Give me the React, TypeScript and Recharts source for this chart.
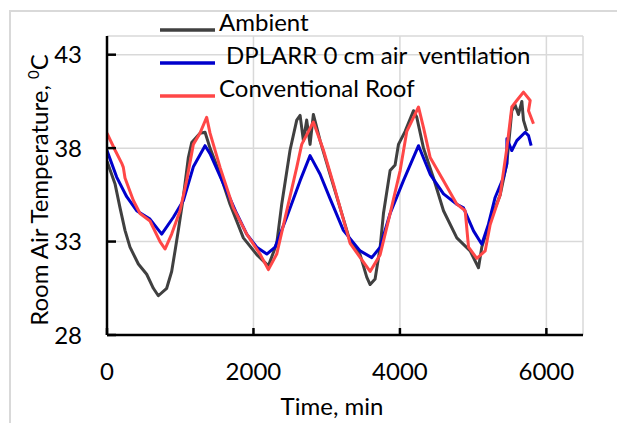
import { LineChart, Line, XAxis, YAxis, CartesianGrid, Legend } from 'recharts';

// time in minutes, room air temperature in degC
const ambientTime = [
  0, 109, 178, 246, 314, 428, 542, 633, 701, 815, 883, 929, 974, 1043, 1111, 1157, 1270, 1339, 1407,
  1544, 1680, 1862, 2045, 2204, 2318, 2386, 2500, 2591, 2637, 2682, 2727, 2773, 2818, 2910, 3046,
  3183, 3320, 3456, 3547, 3593, 3661, 3730, 3775, 3866, 3934, 3980, 4071, 4185, 4230, 4322, 4458,
  4595, 4777, 4959, 5073, 5118, 5232, 5369, 5460, 5528, 5574, 5619, 5665, 5687, 5733,
];
const ambientTemp = [
  37.3, 36.1, 34.8, 33.6, 32.7, 31.8, 31.25, 30.5, 30.1, 30.5, 31.4, 32.5, 33.6, 35.4, 37.5, 38.3, 38.8, 38.85, 38.0,
  36.6, 35.0, 33.2, 32.3, 31.7, 32.9, 35.0, 37.9, 39.5, 39.75, 38.4, 39.5, 38.2, 39.8, 38.4, 36.6,
  34.8, 33.0, 32.3, 31.1, 30.7, 31.0, 32.7, 34.5, 36.8, 37.1, 38.2, 38.9, 40.0, 39.65, 38.0, 36.4,
  34.65, 33.2, 32.5, 31.6, 32.7, 34.1, 35.5, 37.2, 40.0, 40.3, 39.8, 40.5, 39.5, 38.9,
];

const dplarrTime = [
  0, 132, 269, 405, 587, 747, 906, 1043, 1179, 1339, 1407, 1589, 1771, 1908, 2045, 2182, 2295, 2454,
  2637, 2773, 2910, 3046, 3228, 3456, 3616, 3730, 3866, 4048, 4254, 4413, 4595, 4777, 4868, 5005,
  5118, 5209, 5300, 5414, 5460, 5461, 5528, 5596, 5710, 5756, 5792,
];
const dplarrTemp = [
  37.87, 36.45, 35.4, 34.65, 34.2, 33.4, 34.3, 35.2, 37.0, 38.13, 37.7, 36.1, 34.5, 33.4, 32.7, 32.33, 32.7, 34.3,
  36.26, 37.6, 36.6, 35.3, 33.6, 32.5, 32.14, 32.7, 34.5, 36.26, 38.13, 36.6, 35.55, 35.0, 34.8, 33.57,
  32.86, 33.93, 35.36, 36.43, 37.15, 38.5, 37.87, 38.4, 38.85, 38.67, 38.13,
];

const conventionalTime = [
  0, 109, 200, 223, 246, 360, 451, 587, 724, 792, 883, 997, 1088, 1179, 1270, 1361, 1407, 1544, 1726,
  1908, 2090, 2204, 2318, 2454, 2591, 2659, 2818, 2955, 3091, 3320, 3593, 3730, 3866, 4003, 4094,
  4254, 4322, 4413, 4595, 4777, 4891, 4937, 5050, 5164, 5232, 5369, 5460, 5528, 5596, 5687, 5779,
  5756, 5824,
];
const conventionalTemp = [
  38.8, 37.9, 37.2, 36.97, 36.4, 35.2, 34.5, 34.1, 33.0, 32.6, 33.4, 34.65, 36.26, 38.2, 38.8, 39.65, 38.8, 36.97, 34.8,
  33.4, 32.33, 31.5, 32.33, 34.65, 36.97, 38.2, 39.4, 37.9, 36.1, 32.9, 31.4, 32.3, 34.5, 36.8, 38.9,
  40.2, 39.1, 37.5, 36.26, 35.0, 34.65, 32.7, 32.1, 32.5, 33.9, 35.5, 38.0, 40.2, 40.55, 41.0, 40.55,
  40.0, 39.3,
];

const xTicks = [0, 2000, 4000, 6000];
const yTicks = [28, 33, 38, 43];

const seriesNames = ['Ambient', 'DPLARR 0 cm air  ventilation', 'Conventional Roof'];
const seriesColors = ['#404040', '#0000CC', '#FF4747'];

const toPoints = (time: number[], temp: number[]) => time.map((t, i) => ({ time: t, temp: temp[i] }));

const FONT = 'Lato';

function LegendBox() {
  const rows = [
    { y: 31, x: 219 },
    { y: 64, x: 226 },
    { y: 97, x: 219 },
  ];
  return (
    <svg width={617} height={110} style={{ display: 'block' }}>
      {rows.map((r, i) => (
        <g key={seriesNames[i]}>
          <line x1={160} x2={215} y1={r.y - 1} y2={r.y - 1} stroke={seriesColors[i]} strokeWidth={3.5} />
          <text x={r.x} y={r.y} fontFamily={FONT} fontSize={24} fill="#000" style={{ whiteSpace: 'pre' }}>
            {seriesNames[i]}
          </text>
        </g>
      ))}
    </svg>
  );
}

function YLabel() {
  return (
    <text transform="translate(48, 190) rotate(-90)" textAnchor="middle" fontFamily={FONT} fontSize={24} fill="#000">
      Room Air Temperature,{' '}
      <tspan dy={-9} fontSize={15}>0</tspan>
      <tspan dy={9}>C</tspan>
    </text>
  );
}

export default function App() {
  const tickStyle = { fill: '#000', fontSize: 24, fontFamily: FONT };
  return (
    <div style={{ position: 'absolute', left: 0, top: 0, width: 617, height: 423, overflow: 'hidden', background: '#fff' }}>
      <div
        style={{
          position: 'absolute',
          left: 9,
          top: 10,
          width: 608,
          height: 413,
          borderTop: '2px solid #d9d9d9',
          borderLeft: '2px solid #d9d9d9',
        }}
      />
      <LineChart width={617} height={423} margin={{ top: 36, right: 34, bottom: 0, left: 0 }}>
        <CartesianGrid stroke="#d9d9d9" strokeWidth={1.5} />
        <XAxis
          dataKey="time"
          type="number"
          domain={[0, 6500]}
          ticks={xTicks}
          allowDataOverflow
          height={88}
          tickSize={-7}
          tickMargin={35}
          tick={tickStyle}
          axisLine={{ stroke: '#000', strokeWidth: 2.5 }}
          tickLine={{ stroke: '#000', strokeWidth: 2.5 }}
          label={{ value: 'Time, min', position: 'insideBottom', offset: 8, dx: -13, fill: '#000', fontSize: 24, fontFamily: FONT }}
        />
        <YAxis
          type="number"
          domain={[28, 44]}
          ticks={yTicks}
          allowDataOverflow
          width={107}
          tickSize={-9}
          tickMargin={34}
          tick={tickStyle}
          axisLine={{ stroke: '#000', strokeWidth: 2.5 }}
          tickLine={{ stroke: '#000', strokeWidth: 2.5 }}
          label={<YLabel />}
        />
        <Legend
          layout="vertical"
          align="center"
          verticalAlign="middle"
          wrapperStyle={{ left: 0, top: 0, width: 617, height: 110 }}
          content={() => <LegendBox />}
        />
        <Line
          data={toPoints(ambientTime, ambientTemp)}
          dataKey="temp"
          name={seriesNames[0]}
          stroke={seriesColors[0]}
          strokeWidth={3}
          dot={false}
          type="linear"
          strokeLinejoin="round"
          isAnimationActive={false}
        />
        <Line
          data={toPoints(dplarrTime, dplarrTemp)}
          dataKey="temp"
          name={seriesNames[1]}
          stroke={seriesColors[1]}
          strokeWidth={3}
          dot={false}
          type="linear"
          strokeLinejoin="round"
          isAnimationActive={false}
        />
        <Line
          data={toPoints(conventionalTime, conventionalTemp)}
          dataKey="temp"
          name={seriesNames[2]}
          stroke={seriesColors[2]}
          strokeWidth={3}
          dot={false}
          type="linear"
          strokeLinejoin="round"
          isAnimationActive={false}
        />
      </LineChart>
    </div>
  );
}
